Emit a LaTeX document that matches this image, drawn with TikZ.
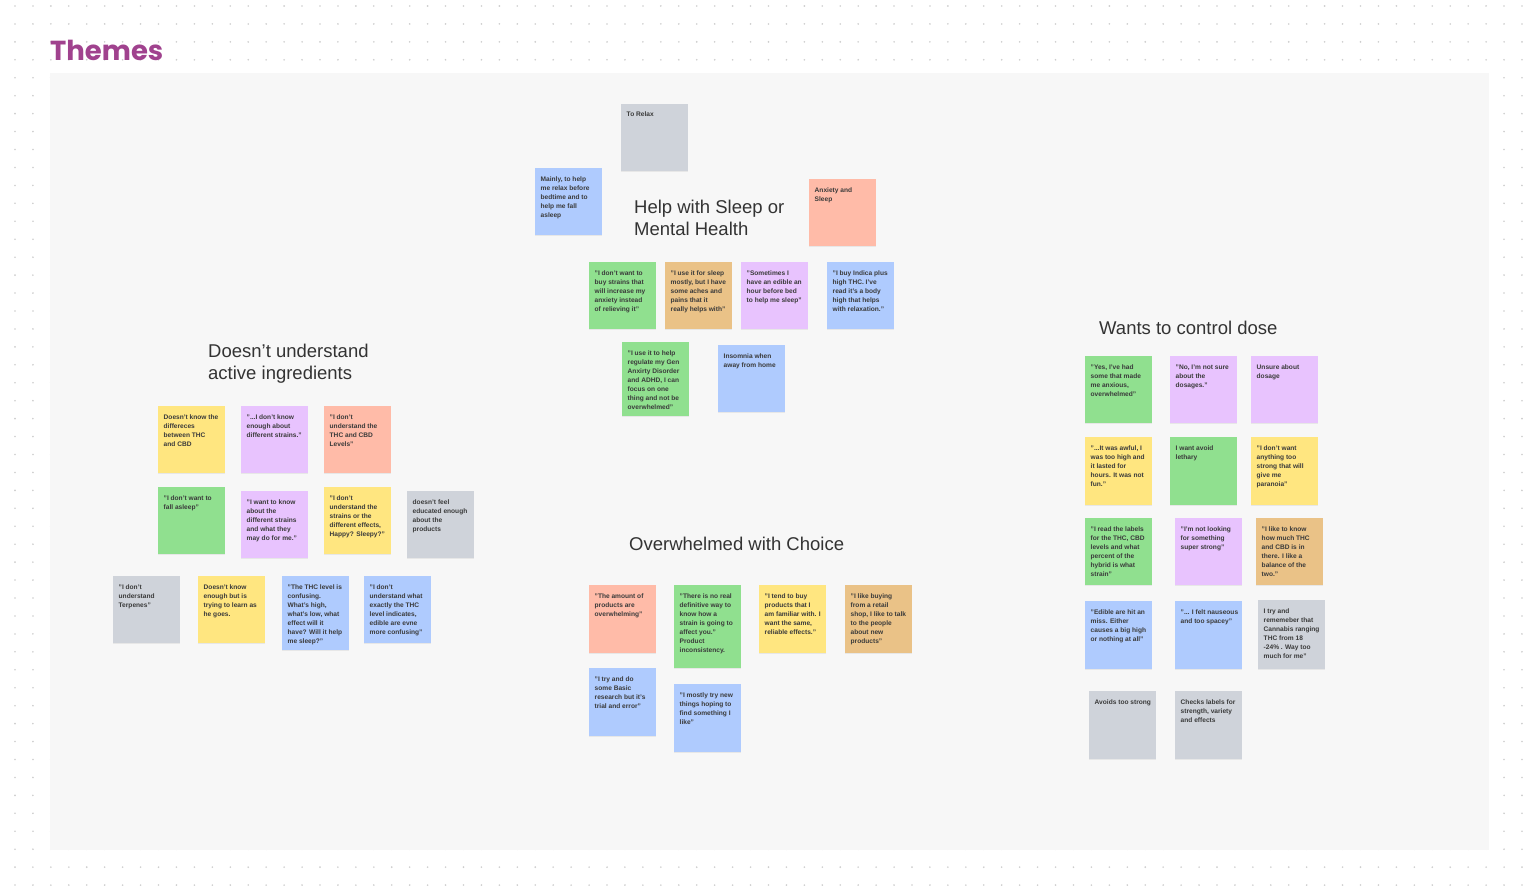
\documentclass[tikz,border=0pt]{standalone}
\usepackage{fontspec}
\setmainfont{Liberation Sans}
\newfontfamily\titlefont{Poppins}
\usetikzlibrary{shadows}
\definecolor{nyellow}{HTML}{FFE680}
\definecolor{ngreen}{HTML}{90E08F}
\definecolor{npurple}{HTML}{E8C3FE}
\definecolor{nsalmon}{HTML}{FFBBA8}
\definecolor{nblue}{HTML}{AFCBFE}
\definecolor{norange}{HTML}{EAC287}
\definecolor{ngrey}{HTML}{CFD3DA}
\definecolor{ntext}{HTML}{3A3A3A}
\definecolor{htext}{HTML}{333333}
\definecolor{titlec}{HTML}{A0428E}
\definecolor{panelc}{HTML}{F7F7F7}
\definecolor{dotc}{HTML}{CDCDCD}
\tikzset{
  note/.style={rectangle, draw=none, minimum width=67pt, inner sep=0pt, anchor=north west,
    drop shadow={shadow xshift=0pt, shadow yshift=-1pt, opacity=0.13}},
  notetext/.style={anchor=north west, inner sep=0pt, align=left, text=ntext,
    font=\fontsize{6.6}{9}\selectfont\bfseries},
  heading/.style={anchor=base west, inner sep=0pt, text=htext,
    font=\fontsize{18.5}{22}\selectfont},
}
\newcommand{\stick}[6]{%
  \node[note, fill=#5, minimum height=#4pt] (#1) at (#2,#3) {};
  \node[notetext] (#1t) at ([xshift=5.5pt,yshift=-7.8pt]#1.north west) {\rule{0pt}{5pt}#6};
}
\begin{document}
\begin{tikzpicture}[x=1pt,y=-1pt]
\useasboundingbox (0,0) rectangle (1536,888);
\fill[white] (0,0) rectangle (1536,888);
\foreach \i in {0,...,84} {
  \foreach \j in {0,...,49} {
    \fill[dotc] (15+17.94*\i, 6+17.94*\j) circle (0.9pt);
  }
}
\fill[panelc] (50,73) rectangle (1489,850);
\node[anchor=base west, inner sep=0pt, text=titlec,
  font=\titlefont\bfseries\fontsize{27.5}{33}\selectfont] (title) at (50,61) {Themes};

% headings
\node[heading] (h1a) at (634,213) {Help with Sleep or};
\node[heading] (h1b) at (634,235) {Mental Health};
\node[heading] (h2a) at (208,357) {Doesn't understand};
\node[heading] (h2b) at (208,379) {active ingredients};
\node[heading] (h3) at (629,550) {Overwhelmed with Choice};
\node[heading] (h4) at (1099,334) {Wants to control dose};

% sleep / mental health
\stick{tr}{621}{104}{67}{ngrey}{To Relax}
\stick{mh}{535}{168}{67}{nblue}{Mainly, to help\\me relax before\\bedtime and to\\help me fall\\asleep}
\stick{as}{809}{179}{67}{nsalmon}{Anxiety and\\Sleep}
\stick{s1}{589}{262}{67}{ngreen}{"I don't want to\\buy strains that\\will increase my\\anxiety instead\\of relieving it"}
\stick{s2}{665}{262}{67}{norange}{"I use it for sleep\\mostly, but I have\\some aches and\\pains that it\\really helps with"}
\stick{s3}{741}{262}{67}{npurple}{"Sometimes I\\have an edible an\\hour before bed\\to help me sleep"}
\stick{s4}{827}{262}{67}{nblue}{"I buy Indica plus\\high THC. I've\\read it's a body\\high that helps\\with relaxation."}
\stick{s5}{622}{342}{74}{ngreen}{"I use it to help\\regulate my Gen\\Anxirty Disorder\\and ADHD, I can\\focus on one\\thing and not be\\overwhelmed"}
\stick{s6}{718}{345}{67}{nblue}{Insomnia when\\away from home}

% doesn't understand
\stick{d1}{158}{406}{67}{nyellow}{Doesn't know the\\differeces\\between THC\\and CBD}
\stick{d2}{241}{406}{67}{npurple}{"...I don't know\\enough about\\different strains."}
\stick{d3}{324}{406}{67}{nsalmon}{"I don't\\understand the\\THC and CBD\\Levels"}
\stick{d4}{158}{487}{67}{ngreen}{"I don't want to\\fall asleep"}
\stick{d5}{241}{491}{67}{npurple}{"I want to know\\about the\\different strains\\and what they\\may do for me."}
\stick{d6}{324}{487}{67}{nyellow}{"I don't\\understand the\\strains or the\\different effects,\\Happy? Sleepy?"}
\stick{d7}{407}{491}{67}{ngrey}{doesn't feel\\educated enough\\about the\\products}
\stick{d8}{113}{576}{67}{ngrey}{"I don't\\understand\\Terpenes"}
\stick{d9}{198}{576}{67}{nyellow}{Doesn't know\\enough but is\\trying to learn as\\he goes.}
\stick{d10}{282}{576}{74}{nblue}{"The THC level is\\confusing.\\What's high,\\what's low, what\\effect will it\\have? Will it help\\me sleep?"}
\stick{d11}{364}{576}{67}{nblue}{"I don't\\understand what\\exactly the THC\\level indicates,\\edible are evne\\more confusing"}

% overwhelmed
\stick{o1}{589}{585}{68}{nsalmon}{"The amount of\\products are\\overwhelming"}
\stick{o2}{674}{585}{83}{ngreen}{"There is no real\\definitive way to\\know how a\\strain is going to\\affect you."\\Product\\inconsistency.}
\stick{o3}{759}{585}{68}{nyellow}{"I tend to buy\\products that I\\am familiar with. I\\want the same,\\reliable effects."}
\stick{o4}{845}{585}{68}{norange}{"I like buying\\from a retail\\shop, I like to talk\\to the people\\about new\\products"}
\stick{o5}{589}{668}{68}{nblue}{"I try and do\\some Basic\\research but it's\\trial and error"}
\stick{o6}{674}{684}{68}{nblue}{"I mostly try new\\things hoping to\\find something I\\like"}

% dose
\stick{w1}{1085}{356}{67}{ngreen}{"Yes, I've had\\some that made\\me anxious,\\overwhelmed"}
\stick{w2}{1170}{356}{67}{npurple}{"No, I'm not sure\\about the\\dosages."}
\stick{w3}{1251}{356}{67}{npurple}{Unsure about\\dosage}
\stick{w4}{1085}{437}{68}{nyellow}{"...It was awful, I\\was too high and\\it lasted for\\hours. It was not\\fun."}
\stick{w5}{1170}{437}{68}{ngreen}{I want avoid\\lethary}
\stick{w6}{1251}{437}{68}{nyellow}{"I don't want\\anything too\\strong that will\\give me\\paranoia"}
\stick{w7}{1085}{518}{67}{ngreen}{"I read the labels\\for the THC, CBD\\levels and what\\percent of the\\hybrid is what\\strain"}
\stick{w8}{1175}{518}{67}{npurple}{"I'm not looking\\for something\\super strong"}
\stick{w9}{1256}{518}{67}{norange}{"I like to know\\how much THC\\and CBD is in\\there. I like a\\balance of the\\two."}
\stick{w10}{1085}{601}{68}{nblue}{"Edible are hit an\\miss. Either\\causes a big high\\or nothing at all"}
\stick{w11}{1175}{601}{68}{nblue}{"... I felt nauseous\\and too spacey"}
\stick{w12}{1258}{600}{69}{ngrey}{I try and\\rememeber that\\Cannabis ranging\\THC from 18\\-24\% . Way too\\much for me"}
\stick{w13}{1089}{691}{68}{ngrey}{Avoids too strong}
\stick{w14}{1175}{691}{68}{ngrey}{Checks labels for\\strength, variety\\and effects}
\end{tikzpicture}
\end{document}
